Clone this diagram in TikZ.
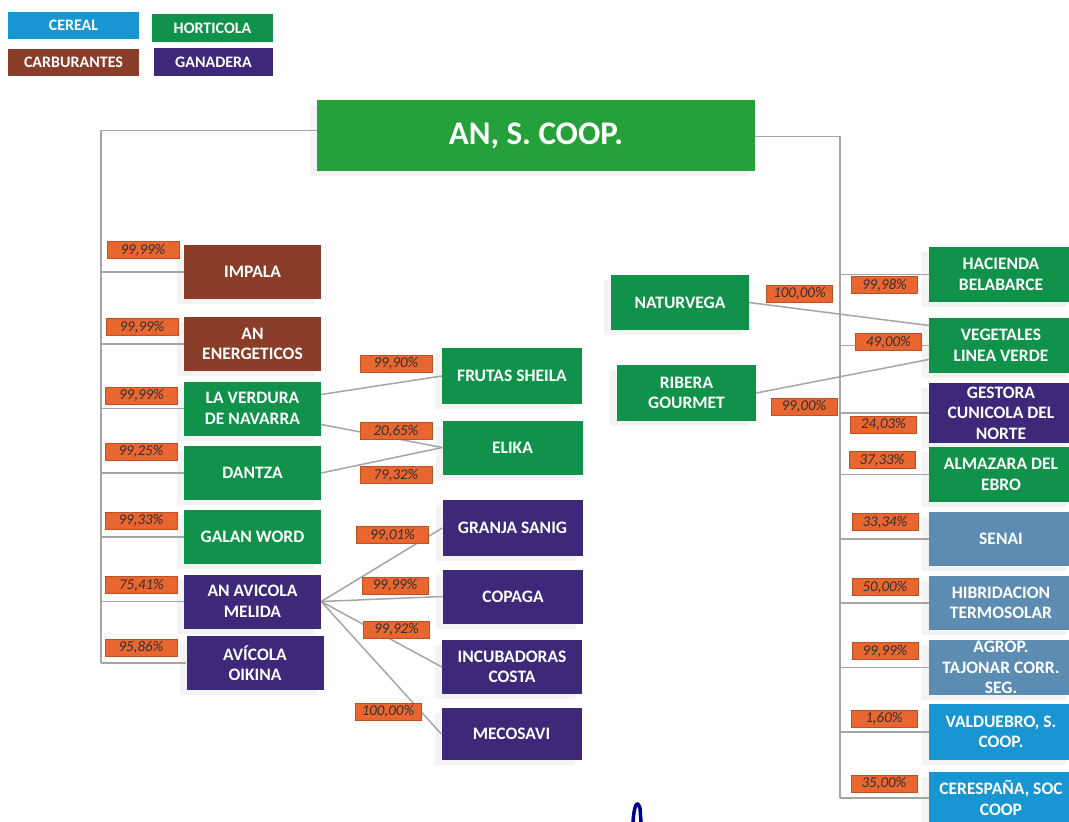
\documentclass[tikz,border=0pt]{standalone}
\usepackage{fontspec}
\setmainfont{Carlito}
\usetikzlibrary{positioning,shadows}
\definecolor{verde}{RGB}{16,146,74}
\definecolor{verderaiz}{RGB}{38,160,58}
\definecolor{marron}{RGB}{138,62,42}
\definecolor{morado}{RGB}{62,40,122}
\definecolor{cereal}{RGB}{24,150,210}
\definecolor{acero}{RGB}{92,140,178}
\definecolor{naranja}{RGB}{234,102,48}
\definecolor{gristexto}{RGB}{50,50,50}
\definecolor{grislinea}{RGB}{165,165,165}
\begin{document}
\begin{tikzpicture}[x=1pt, y=-1pt,
  empresa/.style={minimum width=137, minimum height=54, inner sep=1,
                  align=center, text=white,
                  font=\fontsize{17.5}{20.5}\selectfont\bfseries,
                  drop shadow={shadow xshift=-7pt, shadow yshift=-5pt,
                               opacity=.09}},
  hort/.style={empresa, fill=verde},
  carb/.style={empresa, fill=marron},
  gan/.style={empresa, fill=morado},
  cer/.style={empresa, fill=cereal},
  ener/.style={empresa, fill=acero},
  derecha/.style={minimum width=144},
  centro/.style={minimum width=140},
  leyenda/.style={minimum width=131, minimum height=27, inner sep=0,
                  text=white, font=\fontsize{16}{18}\selectfont\bfseries},
  pct/.style={fill=naranja, draw=naranja!80!black, line width=0.6,
              minimum width=66, minimum height=17, inner sep=1,
              text=gristexto, font=\fontsize{15}{17}\selectfont\itshape},
  pctizq/.style={pct, minimum width=72},
  linea/.style={draw=grislinea, line width=1.5}]
  \fill[white] (0,0) rectangle (1069,822);
  \useasboundingbox (0,0) rectangle (1069,822);
  % leyenda
  \node[leyenda, fill=cereal] (leyCereal) at (73.5,25.5) {CEREAL};
  \node[leyenda, fill=verde, minimum width=121, minimum height=28] (leyHort) at (212.5,28) {HORTICOLA};
  \node[leyenda, fill=marron] (leyCarb) at (73.5,62.5) {CARBURANTES};
  \node[leyenda, fill=morado, minimum width=119, minimum height=28] (leyGan) at (213.5,62) {GANADERA};
  % sociedad matriz
  \node[empresa, fill=verderaiz, minimum width=438, minimum height=71,
        font=\fontsize{33}{38}\selectfont\bfseries] (raiz) at (536,135.5) {AN, S. COOP.};
  % columna izquierda
  \node[carb] (impala) at (252.5,272) {IMPALA};
  \node[carb] (anenerg) at (252.5,344) {AN\\ENERGETICOS};
  \node[hort] (verdura) at (252.5,408.5) {LA VERDURA\\DE NAVARRA};
  \node[hort] (dantza) at (252.5,473) {DANTZA};
  \node[hort] (galan) at (252.5,537) {GALAN WORD};
  \node[gan] (melida) at (252.5,601.5) {AN AVICOLA\\MELIDA};
  \node[gan] (oikina) at (255,663) {AVÍCOLA\\OIKINA};
  % columna central
  \node[hort, centro, minimum height=56] (frutas) at (512,376) {FRUTAS SHEILA};
  \node[hort, centro] (elika) at (512.5,447.5) {ELIKA};
  \node[gan, centro, minimum height=56] (granja) at (512.5,528) {GRANJA SANIG};
  \node[gan, centro] (copaga) at (513,596.5) {COPAGA};
  \node[gan, centro] (incub) at (512,667) {INCUBADORAS\\COSTA};
  \node[gan, centro, minimum height=52] (mecosavi) at (511.5,734) {MECOSAVI};
  \node[hort, minimum width=138, minimum height=55] (naturvega) at (680,302.5) {NATURVEGA};
  \node[hort, minimum width=139, minimum height=56] (ribera) at (686.5,393) {RIBERA\\GOURMET};
  % columna derecha
  \node[hort, derecha, minimum height=55] (hacienda) at (1001,274.5) {HACIENDA\\BELABARCE};
  \node[hort, derecha, minimum height=55] (vegetales) at (1001,345.5) {VEGETALES\\LINEA VERDE};
  \node[gan, derecha, minimum height=60] (gestora) at (1001,413) {GESTORA\\CUNICOLA DEL\\NORTE};
  \node[hort, derecha, minimum height=55] (almazara) at (1001,474.5) {ALMAZARA DEL\\EBRO};
  \node[ener, derecha] (senai) at (1001,539) {SENAI};
  \node[ener, derecha] (hibrid) at (1001,603) {HIBRIDACION\\TERMOSOLAR};
  \node[ener, derecha, minimum height=55] (agrop) at (1001,667.5) {AGROP.\\TAJONAR CORR.\\SEG.};
  \node[cer, derecha, minimum height=56] (valduebro) at (1001,732) {VALDUEBRO, S.\\COOP.};
  \node[cer, derecha, minimum height=52] (cerespana) at (1001,798) {CERESPAÑA, SOC\\COOP};
  % conectores
  \coordinate (troncoI) at (101,663);
  \coordinate (troncoD) at (840,798);
  \draw[linea] ([yshift=5pt]raiz.west) -| (troncoI);
  \draw[linea] ([yshift=-1pt]raiz.east) -| (troncoD);
  \foreach \n in {impala,anenerg,verdura,dantza,galan,melida,oikina}
    \draw[linea] (troncoI |- \n.west) -- (\n.west);
  \foreach \n in {hacienda,vegetales,gestora,almazara,senai,hibrid,agrop,valduebro,cerespana}
    \draw[linea] (troncoD |- \n.west) -- (\n.west);
  \draw[linea] ([yshift=14pt]verdura.east) -- (frutas.west);
  \draw[linea] ([yshift=-16pt]verdura.east) -- (elika.west);
  \draw[linea] (dantza.east) -- (elika.west);
  \foreach \n in {granja,copaga,incub,mecosavi}
    \draw[linea] (melida.east) -- (\n.west);
  \draw[linea] (naturvega.east) -- ([yshift=20pt]vegetales.west);
  \draw[linea] (ribera.east) -- ([yshift=-14pt]vegetales.west);
  % participaciones
  \node[pctizq] (pImpala) at (143,250) {99,99\%};
  \node[pctizq] (pAnenerg) at (142,327) {99,99\%};
  \node[pctizq] (pVerdura) at (141.5,395.5) {99,99\%};
  \node[pctizq] (pDantza) at (141,451.5) {99,25\%};
  \node[pctizq] (pGalan) at (141,520.5) {99,33\%};
  \node[pctizq] (pMelida) at (141.5,585) {75,41\%};
  \node[pctizq] (pOikina) at (141,647.5) {95,86\%};
  \node[pctizq] (pFrutas) at (396,363.5) {99,90\%};
  \node[pctizq] (pElikaA) at (396,431) {20,65\%};
  \node[pctizq] (pElikaB) at (396,475) {79,32\%};
  \node[pctizq] (pGranja) at (392.5,535) {99,01\%};
  \node[pct] (pCopaga) at (395,585.5) {99,99\%};
  \node[pct] (pIncub) at (396.5,629.5) {99,92\%};
  \node[pct] (pMecosavi) at (388,711.5) {100,00\%};
  \node[pct] (pNaturvega) at (799.5,293.5) {100,00\%};
  \node[pct] (pRibera) at (804,406.5) {99,00\%};
  \node[pct] (pHacienda) at (884.5,285) {99,98\%};
  \node[pct] (pVegetales) at (888.5,342) {49,00\%};
  \node[pct] (pGestora) at (883.5,424.5) {24,03\%};
  \node[pct] (pAlmazara) at (882,460) {37,33\%};
  \node[pct] (pSenai) at (885,522) {33,34\%};
  \node[pct] (pHibrid) at (885,587) {50,00\%};
  \node[pct] (pAgrop) at (885,651) {99,99\%};
  \node[pct] (pValduebro) at (884,718.5) {1,60\%};
  \node[pct] (pCerespana) at (884,783.5) {35,00\%};
  % trazo de boli
  \draw[blue!55!black, line width=3.5, line cap=round]
    (633,822) .. controls (634,806) and (637,799) .. (640,808) -- (641,822);
\end{tikzpicture}
\end{document}
